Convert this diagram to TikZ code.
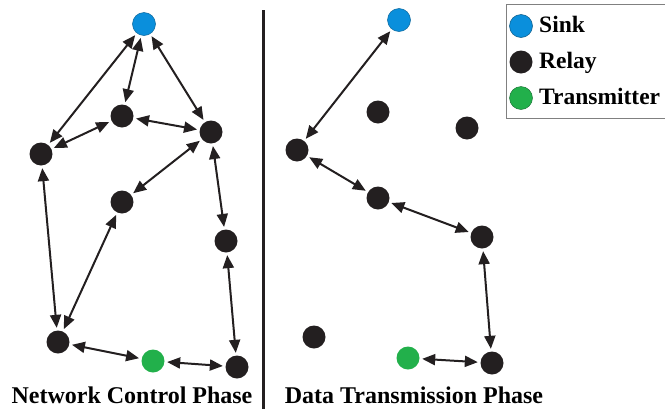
\documentclass[tikz,border=0pt]{standalone}
\usepackage{fontspec}
\setmainfont{Liberation Serif}
\usetikzlibrary{arrows.meta}
\definecolor{sinkblue}{HTML}{0A8FDC}
\definecolor{relayblack}{HTML}{231F20}
\definecolor{txgreen}{HTML}{22B04B}
\tikzset{
  relay/.style={circle,fill=relayblack,inner sep=0pt,minimum size=23pt},
  sink/.style={circle,fill=sinkblue,draw=sinkblue!70!black,line width=0.5pt,inner sep=0pt,minimum size=23pt},
  tx/.style={circle,fill=txgreen,inner sep=0pt,minimum size=23pt},
  link/.style={{Triangle[length=13pt,width=11pt]}-{Triangle[length=13pt,width=11pt]},line width=2pt,draw=relayblack,shorten <=2.5pt,shorten >=2.5pt},
  phase/.style={font=\bfseries\fontsize{24}{27}\selectfont,anchor=base,inner sep=0pt},
  legtext/.style={font=\bfseries\fontsize{23.5}{26}\selectfont,anchor=base west,inner sep=0pt}
}
\begin{document}
\begin{tikzpicture}[x=1pt,y=-1pt]
\useasboundingbox (0,0) rectangle (665,413);

% network control phase
\node[sink]  (s)  at (144,24)  {};
\node[relay] (a)  at (122,116) {};
\node[relay] (b)  at (211,132) {};
\node[relay] (c)  at (41,154)  {};
\node[relay] (d)  at (122,202) {};
\node[relay] (e)  at (226,241) {};
\node[relay] (f)  at (58,342)  {};
\node[tx]    (t)  at (153,361) {};
\node[relay] (g)  at (237,367) {};

\draw[link] (s) -- (c);
\draw[link] (s) -- (a);
\draw[link] (s) -- (b);
\draw[link] (a) -- (c);
\draw[link] (a) -- (b);
\draw[link] (b) -- (d);
\draw[link] (b) -- (e);
\draw[link] (c) -- (f);
\draw[link] (d) -- (f);
\draw[link] (e) -- (g);
\draw[link] (f) -- (t);
\draw[link] (t) -- (g);

% divider
\coordinate (top) at (263,10);
\coordinate (bot) at (263,409);
\draw[line width=3pt,relayblack] (top) -- (bot);

% data transmission phase
\node[sink]  (s2) at (399,20)  {};
\node[relay] (r1) at (378,112) {};
\node[relay] (r2) at (467,128) {};
\node[relay] (h)  at (297,150) {};
\node[relay] (i)  at (378,198) {};
\node[relay] (j)  at (482,237) {};
\node[relay] (r3) at (314,337) {};
\node[tx]    (t2) at (408,358) {};
\node[relay] (k)  at (492,363) {};

\draw[link] (s2) -- (h);
\draw[link] (h) -- (i);
\draw[link] (i) -- (j);
\draw[link] (j) -- (k);
\draw[link] (t2) -- (k);

\node[phase] (lbl1) at (132,403) {Network Control Phase};
\node[phase] (lbl2) at (414,403) {Data Transmission Phase};

% legend
\begin{scope}
\clip (0,0) rectangle (665,413);
\draw[gray,line width=0.8pt] (506,4) rectangle (680,118);
\end{scope}
\node[sink,draw=sinkblue!60!black]   (ls) at (521,26) {};
\node[relay] (lr) at (521,62) {};
\node[tx,draw=txgreen!60!black]      (lt) at (521,98) {};
\node[legtext] at (539,32)  {Sink};
\node[legtext] at (539,68)  {Relay};
\node[legtext] at (539,104) {Transmitter};
\end{tikzpicture}
\end{document}
